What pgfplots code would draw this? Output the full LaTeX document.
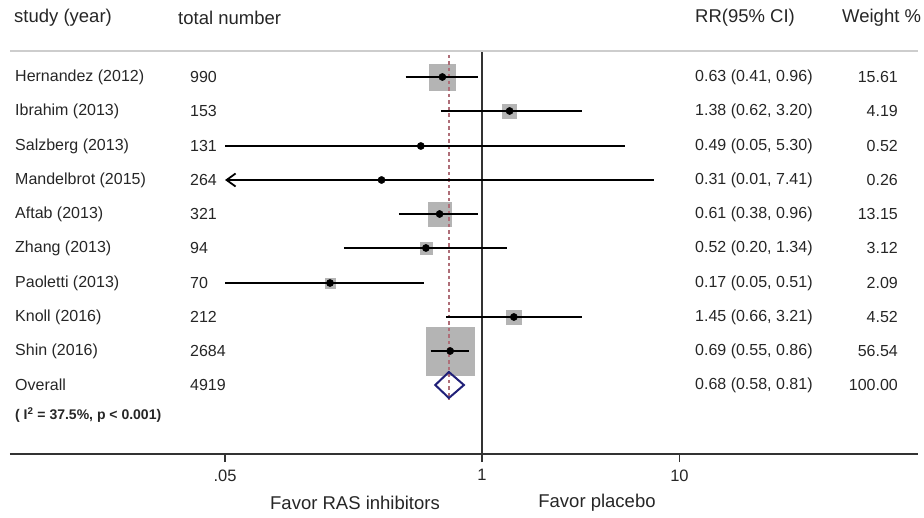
\documentclass[border=0pt]{standalone}
\usepackage{fontspec}
\setmainfont{Liberation Sans}
\usepackage{pgfplots}
\pgfplotsset{compat=1.18}
\usetikzlibrary{arrows.meta}

\definecolor{txt}{RGB}{38,38,38}
\definecolor{sqgray}{RGB}{180,180,180}
\definecolor{refred}{RGB}{175,110,120}
\definecolor{dmd}{RGB}{32,32,120}
\definecolor{hline}{RGB}{205,205,205}

% row position (px from top, negated), RR, half side of weight square
\pgfplotstableread{
y      rr    half
-77    0.63  12.8
-111   1.38  7.0
-146   0.49  2.4
-180   0.31  1.7
-214   0.61  11.8
-248   0.52  5.8
-283   0.17  4.8
-317   1.45  7.2
-351   0.69  24
}\studies

\begin{document}
\begin{tikzpicture}[x=1pt,y=1pt]
\begin{axis}[
  at={(10pt,-454pt)}, anchor=south west,
  scale only axis, width=908pt, height=403pt,
  xmode=log, xmin=0.0040749, xmax=161.31,
  ymin=-454, ymax=-51,
  axis x line*=bottom, axis y line=none,
  x axis line style={line width=1.5pt, black!80},
  xtick={0.05,1,10}, xticklabels={.05,1,10},
  minor xtick={},
  tick align=outside, major tick length=8pt,
  x tick style={line width=1.5pt, black!80},
  x tick label style={font=\fontsize{16.5}{19}\selectfont, text=txt, yshift=-4pt},
  clip=false, clip marker paths=true,
]
% weight squares
\addplot[scatter, only marks, mark=square*,
  scatter/use mapped color={draw=sqgray, fill=sqgray},
  visualization depends on={\thisrow{half}\as\hs},
  scatter/@pre marker code/.append style={/tikz/mark size=\hs}]
  table[x=rr, y=y] {\studies};
% reference line at 1
\addplot[black!80, line width=1.6pt] coordinates {(1,-454) (1,-51)};
% overall estimate
\addplot[refred, line width=1.3pt, dash pattern=on 3.5pt off 3pt] coordinates {(0.68,-55) (0.68,-400)};
% confidence intervals
\addplot[black, line width=1.8pt] coordinates {(0.41,-77) (0.96,-77)};
\addplot[black, line width=1.8pt] coordinates {(0.62,-111) (3.20,-111)};
\addplot[black, line width=1.8pt] coordinates {(0.05,-146) (5.30,-146)};
\addplot[black, line width=1.8pt, {Straight Barb[length=9pt,width=13pt,line width=1.8pt]}-] coordinates {(0.05,-180) (7.41,-180)};
\addplot[black, line width=1.8pt] coordinates {(0.38,-214) (0.96,-214)};
\addplot[black, line width=1.8pt] coordinates {(0.20,-248) (1.34,-248)};
\addplot[black, line width=1.8pt] coordinates {(0.05,-283) (0.51,-283)};
\addplot[black, line width=1.8pt] coordinates {(0.66,-317) (3.21,-317)};
\addplot[black, line width=1.8pt] coordinates {(0.55,-351) (0.86,-351)};
% point estimates
\addplot[only marks, mark=*, mark size=3.6pt, black] table[x=rr, y=y] {\studies};
% pooled diamond
\addplot[dmd, line width=2pt] coordinates {(0.58,-385) (0.68,-372) (0.81,-385) (0.68,-398)} -- cycle;
\end{axis}

\draw[hline, line width=1.6pt] (10,-51) -- (918,-51);

\begin{scope}[every node/.style={text=txt, inner sep=0pt}]
\node[anchor=west, font=\fontsize{18.5}{22}\selectfont] at (14,-18) {study (year)};
\node[anchor=west, font=\fontsize{18.5}{22}\selectfont] at (178,-18) {total number};
\node[anchor=west, font=\fontsize{18.5}{22}\selectfont] at (695,-18) {RR(95\% CI)};
\node[anchor=west, font=\fontsize{18.5}{22}\selectfont] at (842,-18) {Weight \%};

\foreach \yy/\st/\nn/\rr/\ww in {
  -77/Hernandez (2012)/990/0.63 (0.41{,} 0.96)/15.61,
  -111/Ibrahim (2013)/153/1.38 (0.62{,} 3.20)/4.19,
  -146/Salzberg (2013)/131/0.49 (0.05{,} 5.30)/0.52,
  -180/Mandelbrot (2015)/264/0.31 (0.01{,} 7.41)/0.26,
  -214/Aftab (2013)/321/0.61 (0.38{,} 0.96)/13.15,
  -248/Zhang (2013)/94/0.52 (0.20{,} 1.34)/3.12,
  -283/Paoletti (2013)/70/0.17 (0.05{,} 0.51)/2.09,
  -317/Knoll (2016)/212/1.45 (0.66{,} 3.21)/4.52,
  -351/Shin (2016)/2684/0.69 (0.55{,} 0.86)/56.54,
  -385/Overall/4919/0.68 (0.58{,} 0.81)/100.00}{
  \node[anchor=west, font=\fontsize{16}{19}\selectfont] at (15,\yy) {\st};
  \node[anchor=west, font=\fontsize{16}{19}\selectfont] at (190,\yy) {\nn};
  \node[anchor=west, font=\fontsize{16}{19}\selectfont] at (695,\yy) {\rr};
  \node[anchor=east, font=\fontsize{16}{19}\selectfont] at (898,\yy) {\ww};
}
\node[anchor=west, font=\bfseries\fontsize{14}{17}\selectfont] at (15,-415) {( I\textsuperscript{2} = 37.5\%, p < 0.001)};

\node[font=\fontsize{18.5}{22}\selectfont] at (355,-503) {Favor RAS inhibitors};
\node[font=\fontsize{18.5}{22}\selectfont] at (597,-503) {Favor placebo};
\end{scope}

\pgfresetboundingbox
\path[use as bounding box] (0,0) rectangle (924,-518);
\end{tikzpicture}
\end{document}
